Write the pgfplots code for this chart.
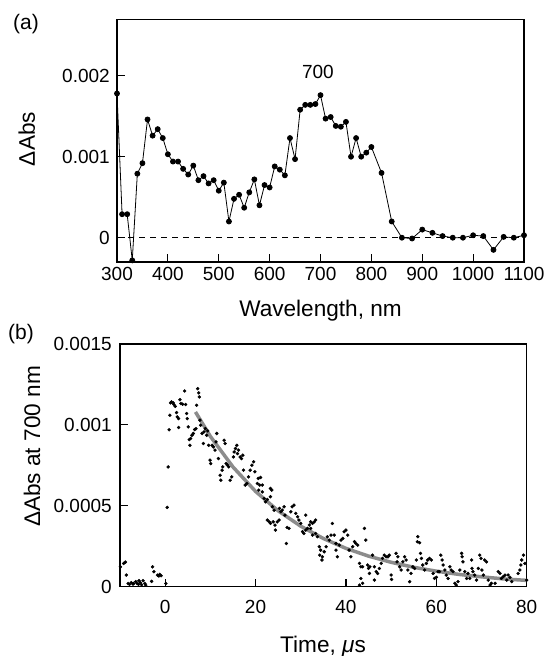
\documentclass[border=0pt]{standalone}
\usepackage{fontspec}
\setmainfont{Liberation Sans}
\usepackage{pgfplots}
\pgfplotsset{compat=1.18}
\definecolor{fitgray}{RGB}{140,140,140}
\newcommand\tickfont{\fontsize{19}{23}\selectfont}
\newcommand\labfont{\fontsize{22.6}{26}\selectfont}

\pgfplotsset{
  panel/.style={
    scale only axis,
    anchor=south west,
    clip=false,
    /pgf/number format/assume math mode=true,
    /pgf/number format/1000 sep={},
    axis line style={line width=1.6pt},
    tick align=inside,
    xtick pos=left, ytick pos=left,
    major tick length=8pt,
    tick style={line width=1.2pt, black},
    ticklabel style={font=\tickfont},
  },
}

\begin{document}
\begin{tikzpicture}
\path[use as bounding box] (0,0) rectangle (548pt,656pt);

% (a) transient spectrum, y in units of 0.001
\begin{axis}[panel,
    at={(117pt,394pt)}, width=407pt, height=242.5pt,
    xmin=300, xmax=1100, ymin=-0.3, ymax=2.694,
    xtick={300,400,...,1100},
    ytick={0,1,2}, yticklabels={0,0.001,0.002},
    xticklabel style={yshift=-1.7pt},
    yticklabel style={xshift=-3.7pt},
  ]
  \addplot[black, line width=0.8pt, dash pattern=on 6pt off 5pt] coordinates {(300,0) (1100,0)};
  \addplot[black, line width=0.8pt, mark=*, mark size=2.5pt] table {
    wl dA
    300 1.78
    310 0.29
    320 0.29
    330 -0.28
    340 0.79
    350 0.92
    360 1.46
    370 1.26
    380 1.34
    390 1.23
    400 1.03
    410 0.94
    420 0.94
    430 0.85
    440 0.78
    450 0.89
    460 0.71
    470 0.76
    480 0.67
    490 0.71
    500 0.58
    510 0.68
    520 0.20
    530 0.48
    540 0.53
    550 0.37
    560 0.56
    570 0.72
    580 0.40
    590 0.65
    600 0.62
    610 0.88
    620 0.84
    630 0.77
    640 1.23
    650 0.97
    660 1.58
    670 1.64
    680 1.64
    690 1.65
    700 1.76
    710 1.47
    720 1.49
    730 1.38
    740 1.37
    750 1.43
    760 1.00
    770 1.23
    780 1.00
    790 1.05
    800 1.12
    820 0.80
    840 0.20
    860 0.00
    880 -0.01
    900 0.10
    920 0.06
    940 0.02
    960 0.00
    980 0.00
    1000 0.03
    1020 0.02
    1040 -0.15
    1060 0.01
    1080 0.00
    1100 0.03
  };
  \node[font=\tickfont] at (axis cs:695,2.05) {700};
\end{axis}

% (b) decay at 700 nm, y in units of 0.001
\begin{axis}[panel,
    at={(120pt,69.3pt)}, width=406.7pt, height=242.7pt,
    xmin=-10, xmax=80, ymin=0, ymax=1.5,
    xtick={0,20,...,80},
    ytick={0,0.5,1,1.5}, yticklabels={0,0.0005,0.001,0.0015},
    xticklabel style={yshift=-10pt},
    yticklabel style={xshift=-4.7pt},
  ]
  \addplot[fitgray, line width=3.5pt] table {
    t fit
    6.7 1.080
    10 0.929
    15 0.740
    20 0.589
    25 0.469
    30 0.374
    35 0.298
    40 0.237
    45 0.189
    50 0.151
    55 0.120
    60 0.096
    65 0.076
    70 0.061
    75 0.048
    80 0.039
  };
  \addplot[only marks, black, mark=*, mark size=1.5pt] table {
    t dA
    -9.9 0.123
    -9.19 0.144
    -8.8 0.152
    -8.6 0.072
    -8.2 0.020
    -7.9 0.014
    -7.5 0.025
    -7.1 0.016
    -7.0 0.020
    -6.5 0.031
    -6.2 0.020
    -5.9 0.014
    -5.8 0.037
    -5.5 0.025
    -5.2 0.012
    -4.9 0.037
    -4.5 0.020
    -4.3 0.010
    -3.0 0.033
    -2.8 0.123
    -2.5 0.093
    -1.7 0.072
    -1.4 0.066
    -1.2 0.076
    -0.9 0.068
    0.15 0.020
    0.44 0.49
    0.67 0.74
    0.89 0.97
    1.04 1.06
    1.19 1.136
    1.41 1.142
    1.78 1.136
    1.93 1.126
    2.22 1.115
    2.52 1.076
    2.67 1.049
    2.96 1.039
    2.96 0.984
    3.26 1.156
    3.48 1.132
    3.85 1.128
    4.30 1.210
    4.52 1.126
    4.74 1.070
    4.89 1.039
    5.11 0.988
    5.33 0.909
    5.48 0.874
    5.63 0.916
    5.93 0.936
    6.22 0.947
    6.52 0.971
    6.81 0.977
    6.96 1.121
    7.19 1.224
    7.41 1.198
    7.56 1.173
    7.70 1.029
    7.85 0.998
    8.15 0.947
    8.44 0.885
    8.59 0.957
    8.89 0.977
    9.19 0.936
    9.41 0.963
    9.63 0.874
    9.93 0.782
    10.07 0.761
    10.37 0.874
    10.67 0.864
    11.04 0.844
    11.26 0.895
    11.41 0.947
    11.78 0.792
    12.15 0.689
    12.30 0.658
    12.59 0.720
    12.74 0.741
    13.04 0.905
    13.26 0.885
    13.48 0.761
    13.78 0.751
    14.07 0.741
    14.37 0.658
    14.74 0.679
    15.11 0.802
    15.26 0.833
    15.56 0.854
    15.85 0.874
    16.00 0.823
    16.22 0.844
    16.59 0.802
    16.89 0.792
    17.19 0.813
    17.33 0.720
    17.70 0.628
    18.07 0.638
    18.44 0.679
    18.81 0.720
    19.19 0.751
    19.56 0.772
    19.85 0.710
    20.4 0.638
    20.6 0.669
    20.7 0.597
    20.9 0.628
    21.1 0.675
    21.5 0.628
    21.5 0.586
    21.9 0.545
    22.2 0.525
    22.6 0.539
    22.6 0.412
    23.0 0.401
    23.3 0.607
    23.3 0.556
    23.3 0.391
    23.6 0.597
    23.7 0.494
    23.9 0.401
    24.1 0.473
    24.3 0.381
    24.4 0.350
    24.8 0.401
    25.2 0.412
    25.3 0.484
    25.6 0.463
    25.9 0.473
    26.3 0.494
    26.5 0.442
    26.8 0.267
    27.0 0.366
    27.4 0.360
    27.8 0.463
    28.1 0.494
    28.5 0.504
    28.9 0.453
    29.3 0.432
    29.6 0.412
    30.0 0.391
    30.4 0.340
    30.7 0.329
    31.1 0.350
    31.1 0.442
    31.5 0.360
    31.9 0.381
    32.2 0.401
    32.2 0.360
    32.6 0.391
    32.6 0.319
    33.0 0.401
    33.3 0.412
    33.3 0.329
    33.7 0.309
    34.1 0.247
    34.2 0.195
    34.4 0.226
    34.7 0.165
    34.8 0.185
    35.2 0.216
    35.6 0.247
    35.9 0.309
    36.3 0.288
    36.7 0.319
    37.0 0.391
    37.4 0.319
    37.8 0.226
    37.8 0.267
    38.1 0.185
    38.5 0.257
    38.9 0.288
    39.3 0.298
    39.6 0.340
    40.0 0.350
    40.4 0.319
    40.7 0.226
    41.1 0.185
    41.5 0.247
    41.9 0.278
    42.2 0.267
    42.6 0.257
    43.0 0.144
    43.0 0.010
    43.3 0.123
    43.3 0.051
    43.7 0.123
    43.7 0.021
    44.1 0.360
    44.4 0.288
    44.8 0.134
    45.0 0.113
    45.2 0.082
    45.3 0.123
    45.9 0.195
    46.3 0.123
    46.3 0.041
    46.7 0.093
    47.0 0.082
    47.4 0.113
    47.8 0.144
    48.1 0.175
    48.5 0.195
    48.9 0.185
    49.3 0.185
    49.6 0.195
    50.0 0.072
    50.1 0.045
    51.1 0.206
    51.3 0.154
    51.5 0.185
    51.9 0.123
    52.2 0.103
    52.6 0.154
    53.0 0.185
    53.3 0.165
    53.7 0.103
    54.1 0.031
    54.4 0.082
    54.8 0.123
    55.2 0.113
    55.6 0.165
    55.8 0.278
    55.9 0.309
    56.3 0.272
    56.5 0.206
    56.7 0.175
    57.0 0.134
    57.4 0.103
    57.8 0.144
    58.1 0.165
    58.5 0.175
    58.9 0.165
    59.3 0.082
    59.6 0.051
    60.0 0.058
    60.4 0.093
    60.7 0.093
    61.0 0.195
    61.3 0.165
    61.5 0.134
    61.9 0.103
    62.2 0.072
    62.6 0.051
    63.0 0.123
    63.3 0.103
    63.7 0.093
    64.1 0.021
    64.4 0.010
    64.8 0.031
    65.2 0.103
    65.6 0.206
    65.7 0.185
    65.9 0.154
    66.3 0.093
    66.7 0.051
    67.0 0.082
    67.4 0.051
    67.8 0.165
    67.9 0.113
    68.1 0.093
    68.5 0.072
    68.9 0.041
    69.3 0.113
    69.6 0.195
    69.9 0.175
    70.1 0.103
    70.4 0.072
    70.7 0.165
    71.1 0.154
    71.5 0.041
    71.9 0.010
    72.2 0.021
    73.0 0.021
    73.7 0.093
    74.1 0.082
    74.4 0.051
    74.8 0.062
    75.2 0.072
    75.6 0.041
    75.9 0.072
    76.3 0.058
    76.7 0.031
    78.1 0.082
    78.5 0.103
    78.7 0.134
    78.9 0.165
    79.3 0.195
    79.6 0.144
    80.0 0.041
  };
\end{axis}

% panel letters and axis titles
\node[font=\fontsize{21}{25}\selectfont] at (26pt,632pt) {(a)};
\node[font=\fontsize{21}{25}\selectfont] at (21pt,322pt) {(b)};
\node[font=\labfont, anchor=base] at (320.5pt,339.5pt) {Wavelength, nm};
\node[font=\labfont, anchor=base] at (323pt,4pt) {Time, \textit{μ}s};
\node[font=\labfont, rotate=90, anchor=base] at (35pt,517pt) {ΔAbs};
\node[font=\labfont, rotate=90, anchor=base] at (40pt,209.5pt) {ΔAbs at 700 nm};
\end{tikzpicture}
\end{document}
